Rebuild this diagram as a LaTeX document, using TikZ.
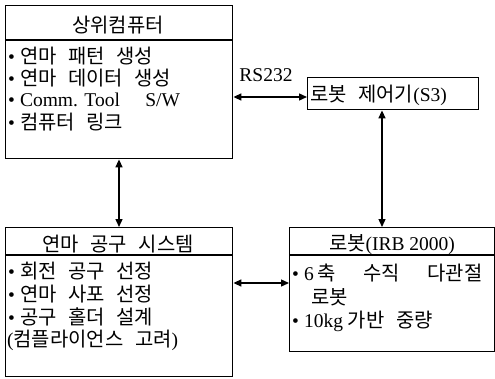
\documentclass[tikz,border=0pt]{standalone}
\usepackage{fontspec}
\setmainfont{Liberation Serif}
\newfontfamily\kr[Scale=1.02,WordSpace=2.6]{Noto Sans CJK KR}
\usetikzlibrary{arrows.meta}
\begin{document}
\begin{tikzpicture}[x=1pt,y=-1pt,
  box/.style={draw, line width=1.4pt, anchor=north west, inner sep=0pt},
  lbl/.style={inner sep=0pt, anchor=west, font=\fontsize{19.5}{22}\selectfont},
  hdr/.style={inner sep=0pt, anchor=center, font=\fontsize{19.5}{22}\selectfont},
  link/.style={line width=1.4pt, {Triangle[length=8pt,width=7pt]}-{Triangle[length=8pt,width=7pt]}},
  sep/.style={line width=1.2pt}]
\useasboundingbox (0,0) rectangle (495,378);
% boxes
\node[box, minimum width=227pt, minimum height=153pt] (A) at (5,5) {};
\node[box, minimum width=171pt, minimum height=32pt] (B) at (307,77) {};
\node[box, minimum width=227pt, minimum height=149pt] (C) at (5,227) {};
\node[box, minimum width=205pt, minimum height=124pt] (D) at (289,227) {};
% header separators
\draw[sep] ([yshift=-35pt]A.north west) -- ([yshift=-35pt]A.north east);
\draw[sep] ([yshift=-28pt]C.north west) -- ([yshift=-28pt]C.north east);
\draw[sep] ([yshift=-28pt]D.north west) -- ([yshift=-28pt]D.north east);
% texts A
\node[hdr] (Ah) at (118,25) {\kr 상위컴퓨터};
\node[lbl] (A1) at (8,56) {•\hspace{5pt}\kr 연마 패턴 생성};
\node[lbl] (A2) at (8,78) {•\hspace{5pt}\kr 연마 데이터 생성};
\node[lbl] (A3) at (8,100) {•\hspace{5pt}Comm. Tool\hspace{1.3em}S/W};
\node[lbl] (A4) at (8,122) {•\hspace{5pt}\kr 컴퓨터 링크};
% B
\node[lbl] (Bt) at (310,95) {{\kr 로봇 제어기}(S3)};
\node[hdr] (RS) at (266,75) {RS232};
% C
\node[hdr] (Ch) at (118,244) {\kr 연마 공구 시스템};
\node[lbl] (C1) at (8,271) {•\hspace{5pt}\kr 회전 공구 선정};
\node[lbl] (C2) at (8,294) {•\hspace{5pt}\kr 연마 사포 선정};
\node[lbl] (C3) at (8,317) {•\hspace{5pt}\kr 공구 홀더 설계};
\node[lbl] (C4) at (7,340) {({\kr 컴플라이언스 고려})};
% D
\node[hdr] (Dh) at (392,245) {{\kr 로봇}(IRB 2000)};
\node[lbl] (D1) at (292,273) {•\hspace{5pt}6\,{\kr 축\hspace{1.4em}수직\hspace{1.4em}다관절}};
\node[lbl] (D2) at (311,297) {\kr 로봇};
\node[lbl] (D3) at (292,321) {•\hspace{5pt}10kg {\kr 가반 중량}};
% connectors
\coordinate (p1) at (119,0);
\coordinate (p2) at (382,0);
\coordinate (p3) at (0,97);
\coordinate (p4) at (0,283);
\draw[link] (A.south -| p1) -- (C.north -| p1);
\draw[link] (B.south -| p2) -- (D.north -| p2);
\draw[link] (A.east |- p3) -- (B.west |- p3);
\draw[link] (C.east |- p4) -- (D.west |- p4);
\end{tikzpicture}
\end{document}
